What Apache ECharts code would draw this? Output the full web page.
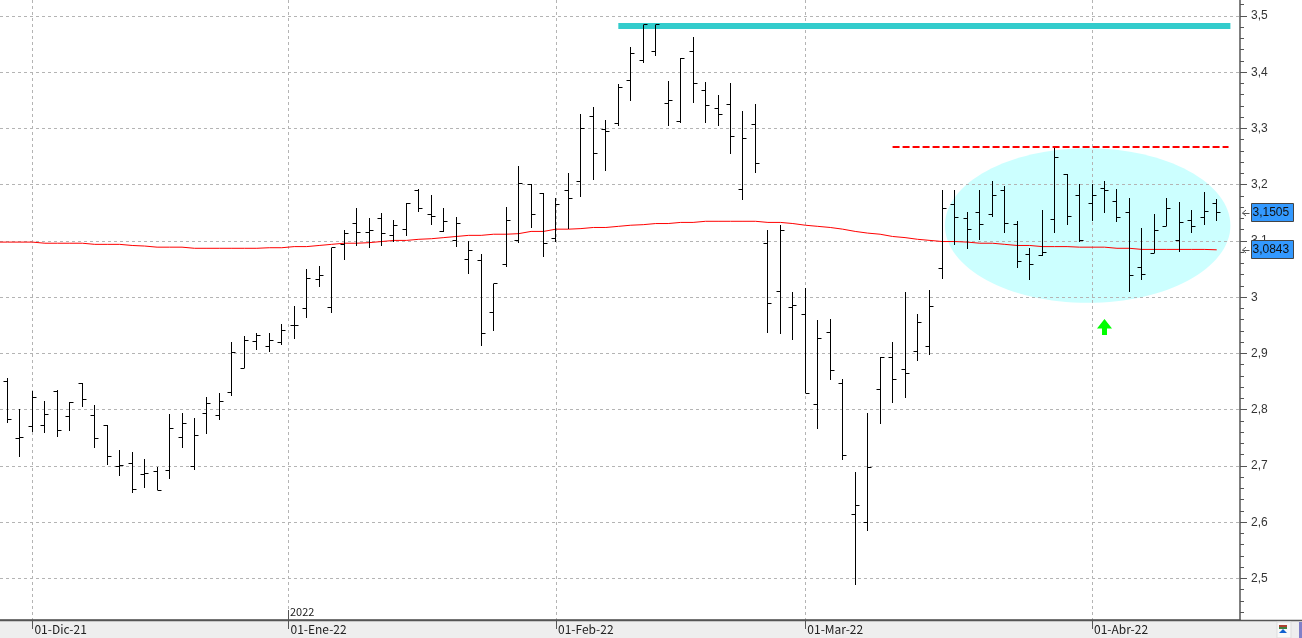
<!DOCTYPE html>
<html><head><meta charset="utf-8">
<style>html,body{margin:0;padding:0;background:#fff;overflow:hidden}#c{width:1302px;height:638px}</style>
<script src="https://cdn.jsdelivr.net/npm/echarts@6/dist/echarts.min.js"></script>
</head><body><div id="c"></div>
<script>
const opens=[2.850,2.749,2.770,2.772,2.833,2.788,2.847,2.790,2.772,2.699,2.705,2.685,2.690,2.692,2.751,2.699,2.794,2.790,2.831,2.874,
2.922,2.912,2.919,2.950,2.980,3.031,2.982,3.094,3.131,3.115,3.140,3.110,3.120,3.190,3.147,3.117,3.101,3.067,3.065,2.973,
3.058,3.101,3.201,3.184,3.104,3.190,3.206,3.322,3.299,3.309,3.386,3.421,3.437,3.345,3.313,3.436,3.368,3.336,3.343,3.192,
3.307,3.096,3.010,2.982,2.969,2.809,2.937,2.847,2.614,2.600,2.836,2.893,2.872,2.904,2.913,3.051,3.165,3.140,3.151,3.147,
3.190,3.130,3.076,3.074,3.139,3.219,3.180,3.167,3.194,3.171,3.151,3.053,3.078,3.126,3.100,3.137,3.142,3.167];
const highs=[2.856,2.802,2.834,2.815,2.835,2.813,2.847,2.808,2.772,2.728,2.724,2.712,2.699,2.792,2.795,2.786,2.822,2.829,2.920,2.931,
2.937,2.937,2.952,2.984,3.050,3.056,3.088,3.120,3.158,3.140,3.149,3.138,3.167,3.193,3.181,3.158,3.142,3.100,3.076,3.024,
3.161,3.233,3.202,3.186,3.177,3.220,3.325,3.338,3.315,3.379,3.444,3.484,3.484,3.384,3.425,3.462,3.382,3.359,3.380,3.331,
3.343,3.120,3.129,3.010,3.017,2.960,2.962,2.854,2.690,2.795,2.893,2.921,3.009,2.970,3.012,3.190,3.190,3.151,3.190,3.206,
3.197,3.135,3.087,3.155,3.265,3.219,3.201,3.201,3.206,3.192,3.176,3.123,3.148,3.176,3.169,3.155,3.187,3.174];
const lows=[2.776,2.716,2.761,2.759,2.752,2.763,2.804,2.732,2.702,2.683,2.652,2.660,2.657,2.677,2.732,2.692,2.757,2.782,2.824,2.874,
2.906,2.903,2.915,2.926,2.963,3.018,2.972,3.066,3.091,3.088,3.091,3.099,3.109,3.152,3.129,3.116,3.090,3.042,2.913,2.940,
3.054,3.096,3.123,3.072,3.099,3.122,3.179,3.209,3.225,3.305,3.348,3.417,3.428,3.305,3.310,3.346,3.309,3.305,3.255,3.172,
3.221,2.937,2.935,2.924,2.829,2.766,2.853,2.711,2.488,2.585,2.775,2.812,2.820,2.887,2.897,3.033,3.092,3.085,3.101,3.142,
3.115,3.052,3.030,3.074,3.115,3.129,3.098,3.136,3.149,3.133,3.010,3.031,3.078,3.126,3.080,3.115,3.129,3.135];
const closes=[2.783,2.751,2.822,2.792,2.763,2.813,2.818,2.749,2.717,2.701,2.658,2.687,2.657,2.767,2.776,2.754,2.811,2.815,2.902,2.923,
2.932,2.923,2.941,2.950,3.033,3.039,3.088,3.113,3.115,3.119,3.113,3.128,3.167,3.158,3.144,3.135,3.131,3.083,2.935,3.024,
3.136,3.202,3.147,3.096,3.165,3.176,3.300,3.256,3.295,3.372,3.434,3.484,3.484,3.349,3.425,3.380,3.341,3.324,3.286,3.283,
3.238,2.989,3.119,2.985,2.829,2.927,2.870,2.719,2.630,2.697,2.893,2.854,2.865,2.955,2.984,3.158,3.142,3.121,3.130,3.181,
3.131,3.064,3.058,3.080,3.249,3.144,3.101,3.181,3.190,3.141,3.039,3.041,3.119,3.158,3.133,3.125,3.153,3.151];
// moving average, first entry sits one bar before the first bar
const movingAvg=[3.098,3.098,3.098,3.098,3.096,3.096,3.096,3.096,3.094,3.094,3.094,3.092,3.091,3.089,3.089,3.089,3.087,3.087,3.087,3.087,3.087,
3.087,3.088,3.088,3.090,3.090,3.092,3.094,3.096,3.096,3.097,3.099,3.101,3.101,3.103,3.104,3.106,3.108,3.110,3.110,3.112,
3.112,3.113,3.117,3.117,3.121,3.121,3.122,3.124,3.124,3.126,3.128,3.129,3.131,3.131,3.133,3.133,3.135,3.135,3.135,3.135,
3.135,3.133,3.133,3.131,3.128,3.126,3.124,3.121,3.117,3.114,3.112,3.108,3.106,3.103,3.101,3.099,3.099,3.098,3.096,3.096,
3.094,3.092,3.092,3.090,3.090,3.090,3.089,3.089,3.089,3.087,3.087,3.085,3.085,3.085,3.085,3.085,3.085,3.0843];
const yTicks=[2.5,2.6,2.7,2.8,2.9,3.0,3.1,3.2,3.3,3.4,3.5];
const dateTicks=[2,22.54,44,64,87];
const dateLabels=['01-Dic-21','01-Ene-22','01-Feb-22','01-Mar-22','01-Abr-22'];
const yearTick=22.54, yearLabel='2022';
const resistanceTop=3.482, resistanceTopFrom=49, resistanceTopTo=98.1;
const resistanceMid=3.267, resistanceMidFrom=71, resistanceMidTo=97.95;
const ellipseX=[75.2,98.1], ellipseY=[2.99,3.265];
const arrowPoint=[88,2.947];
const lastClose=3.1505, lastAvg=3.0843;
const xMin=-0.6016,xMax=98.87,yMin=2.4262,yMax=3.5284;

const minorTicks=[];for(let k=122;k<=176;k++){if(k%5)minorTicks.push(k/50);}
const fmt=v=>{const s=String(+(+v).toFixed(1));return s.replace('.',',');};
const barData=opens.map((o,i)=>[i,o,highs[i],lows[i],closes[i]]);
const snap=v=>Math.floor(v)+.5;
const ln=(x1,y1,x2,y2)=>({type:'line',shape:{x1,y1,x2,y2},style:{stroke:'#000',lineWidth:1}});

const chart=echarts.init(document.getElementById('c'),null,{renderer:'canvas'});
const mono='"Noto Sans CJK KR","Noto Sans",sans-serif';
chart.setOption({
 animation:false,backgroundColor:'#fff',
 grid:{left:0,top:0,width:1240,height:620,containLabel:false},
 xAxis:{type:'value',min:xMin,max:xMax,z:1,position:'bottom',
  axisLine:{onZero:false,lineStyle:{color:'#555',width:1.5}},
  axisTick:{show:true,length:9,customValues:dateTicks,lineStyle:{color:'#555'}},
  axisLabel:{customValues:dateTicks,margin:3,align:'left',padding:[0,0,0,2],fontFamily:mono,fontSize:12,color:'#222',
    formatter:v=>dateLabels[dateTicks.indexOf(+v)]||''},
  splitLine:{show:true,lineStyle:{type:[3,3],color:'#b4b4b4',width:1}}},
 yAxis:[{type:'value',min:yMin,max:yMax,position:'right',z:1,
  axisLine:{show:true,onZero:false,lineStyle:{color:'#555',width:1.5}},
  axisTick:{show:true,length:7,customValues:yTicks,lineStyle:{color:'#555'}},
  axisLabel:{customValues:yTicks,margin:11,padding:[2,0,0,0],fontFamily:'"Liberation Sans",Arial,sans-serif',fontSize:12,color:'#333',formatter:fmt},
  splitLine:{show:true,lineStyle:{type:[3,3],color:'#b4b4b4',width:1}}},
  {type:'value',min:yMin,max:yMax,position:'right',z:1,
  axisLine:{show:false,onZero:false},axisTick:{show:true,length:4,customValues:minorTicks,lineStyle:{color:'#555'}},
  axisLabel:{show:false},splitLine:{show:false}}],
 series:[
  {type:'custom',name:'zone',z:0,silent:true,data:[[ellipseX[0],ellipseY[0],ellipseX[1],ellipseY[1]]],
   renderItem:(p,api)=>{const a=api.coord([api.value(0),api.value(1)]),b=api.coord([api.value(2),api.value(3)]);
    return {type:'ellipse',shape:{cx:(a[0]+b[0])/2,cy:(a[1]+b[1])/2,rx:Math.abs(b[0]-a[0])/2,ry:Math.abs(b[1]-a[1])/2},style:{fill:'#ccffff'}};}},
  {type:'line',name:'top',z:2,silent:true,symbol:'none',lineStyle:{color:'#33cccc',width:6},data:[[resistanceTopFrom,resistanceTop],[resistanceTopTo,resistanceTop]]},
  {type:'line',name:'mid',z:2,silent:true,symbol:'none',lineStyle:{color:'#ff0000',width:2,type:[7,3]},data:[[resistanceMidFrom,resistanceMid],[resistanceMidTo,resistanceMid]]},
  {type:'line',name:'avg',z:3,silent:true,symbol:'none',lineStyle:{color:'#ff0000',width:1},data:movingAvg.map((v,i)=>[i-1,v])},
  {type:'custom',name:'bars',z:4,silent:true,clip:true,data:barData,encode:{x:0,y:[1,2,3,4]},
   renderItem:(p,api)=>{const i=api.value(0),x=snap(api.coord([i,0])[0]);
    const yo=snap(api.coord([i,api.value(1)])[1]),yh=Math.round(api.coord([i,api.value(2)])[1]),yl=Math.round(api.coord([i,api.value(3)])[1]),yc=snap(api.coord([i,api.value(4)])[1]);
    return {type:'group',children:[ln(x,yh,x,yl),ln(x-4,yo,x,yo),ln(x,yc,x+4,yc)]};}},
  {type:'scatter',name:'arrow',z:5,silent:true,symbol:'path://M7.5 0L15 9.5H10V16H5V9.5H0Z',symbolSize:[15,16],itemStyle:{color:'#00ff00',opacity:1},data:[arrowPoint]}
 ]
});

const py=v=>chart.convertToPixel({yAxisIndex:0},v);
const px=v=>chart.convertToPixel({xAxisIndex:0},v);
const box=(v,label)=>{const y=Math.round(py(v));return [
  {type:'rect',z:20,shape:{x:1251.5,y:y-9.5,width:42,height:18},style:{fill:'#3399ff',stroke:'#444',lineWidth:1}},
  {type:'text',z:21,x:1252.5,y:y-0.5,style:{text:label,fill:'#111',font:'12px "Liberation Sans",Arial,sans-serif',textVerticalAlign:'middle'}},
  {type:'polyline',z:21,shape:{points:[[1246,y-3],[1242.5,y],[1246,y+3]]},style:{stroke:'#555',fill:null,lineWidth:1}},
  {type:'line',z:21,shape:{x1:1242.5,y1:y+.5,x2:1249.5,y2:y+.5},style:{stroke:'#555',lineWidth:1}}
];};
const yx=Math.round(px(yearTick));
chart.setOption({graphic:{elements:[
 {type:'rect',z:-10,silent:true,shape:{x:0,y:620,width:1302,height:18},style:{fill:'#eeeeee'}},
 {type:'line',z:10,shape:{x1:0,y1:620.5,x2:1302,y2:620.5},style:{stroke:'#555',lineWidth:1.5}},
 {type:'line',z:10,shape:{x1:yx+.5,y1:610,x2:yx+.5,y2:620},style:{stroke:'#555',lineWidth:1}},
 {type:'text',z:10,x:yx+2,y:612,style:{text:yearLabel,fill:'#222',font:'11px '+mono,textVerticalAlign:'middle'}},
 {type:'rect',z:10,shape:{x:1277,y:622,width:14,height:16},style:{fill:'#f8f8f8',stroke:'#dddddd',lineWidth:1}},
 {type:'rect',z:11,shape:{x:1279,y:625,width:8,height:2},style:{fill:'#b04030'}},
 {type:'rect',z:11,shape:{x:1279,y:627,width:8,height:2},style:{fill:'#408040'}},
 {type:'polygon',z:11,shape:{points:[[1283,629],[1287,633],[1279,633]]},style:{fill:'#1060d0'}},
 {type:'rect',z:10,shape:{x:1299,y:622,width:3,height:16},style:{fill:'#8080c8'}},
 ...box(lastClose,fmtPrice(lastClose)),...box(lastAvg,fmtPrice(lastAvg))
]}});
function fmtPrice(v){return v.toFixed(4).replace('.',',');}
</script></body></html>
